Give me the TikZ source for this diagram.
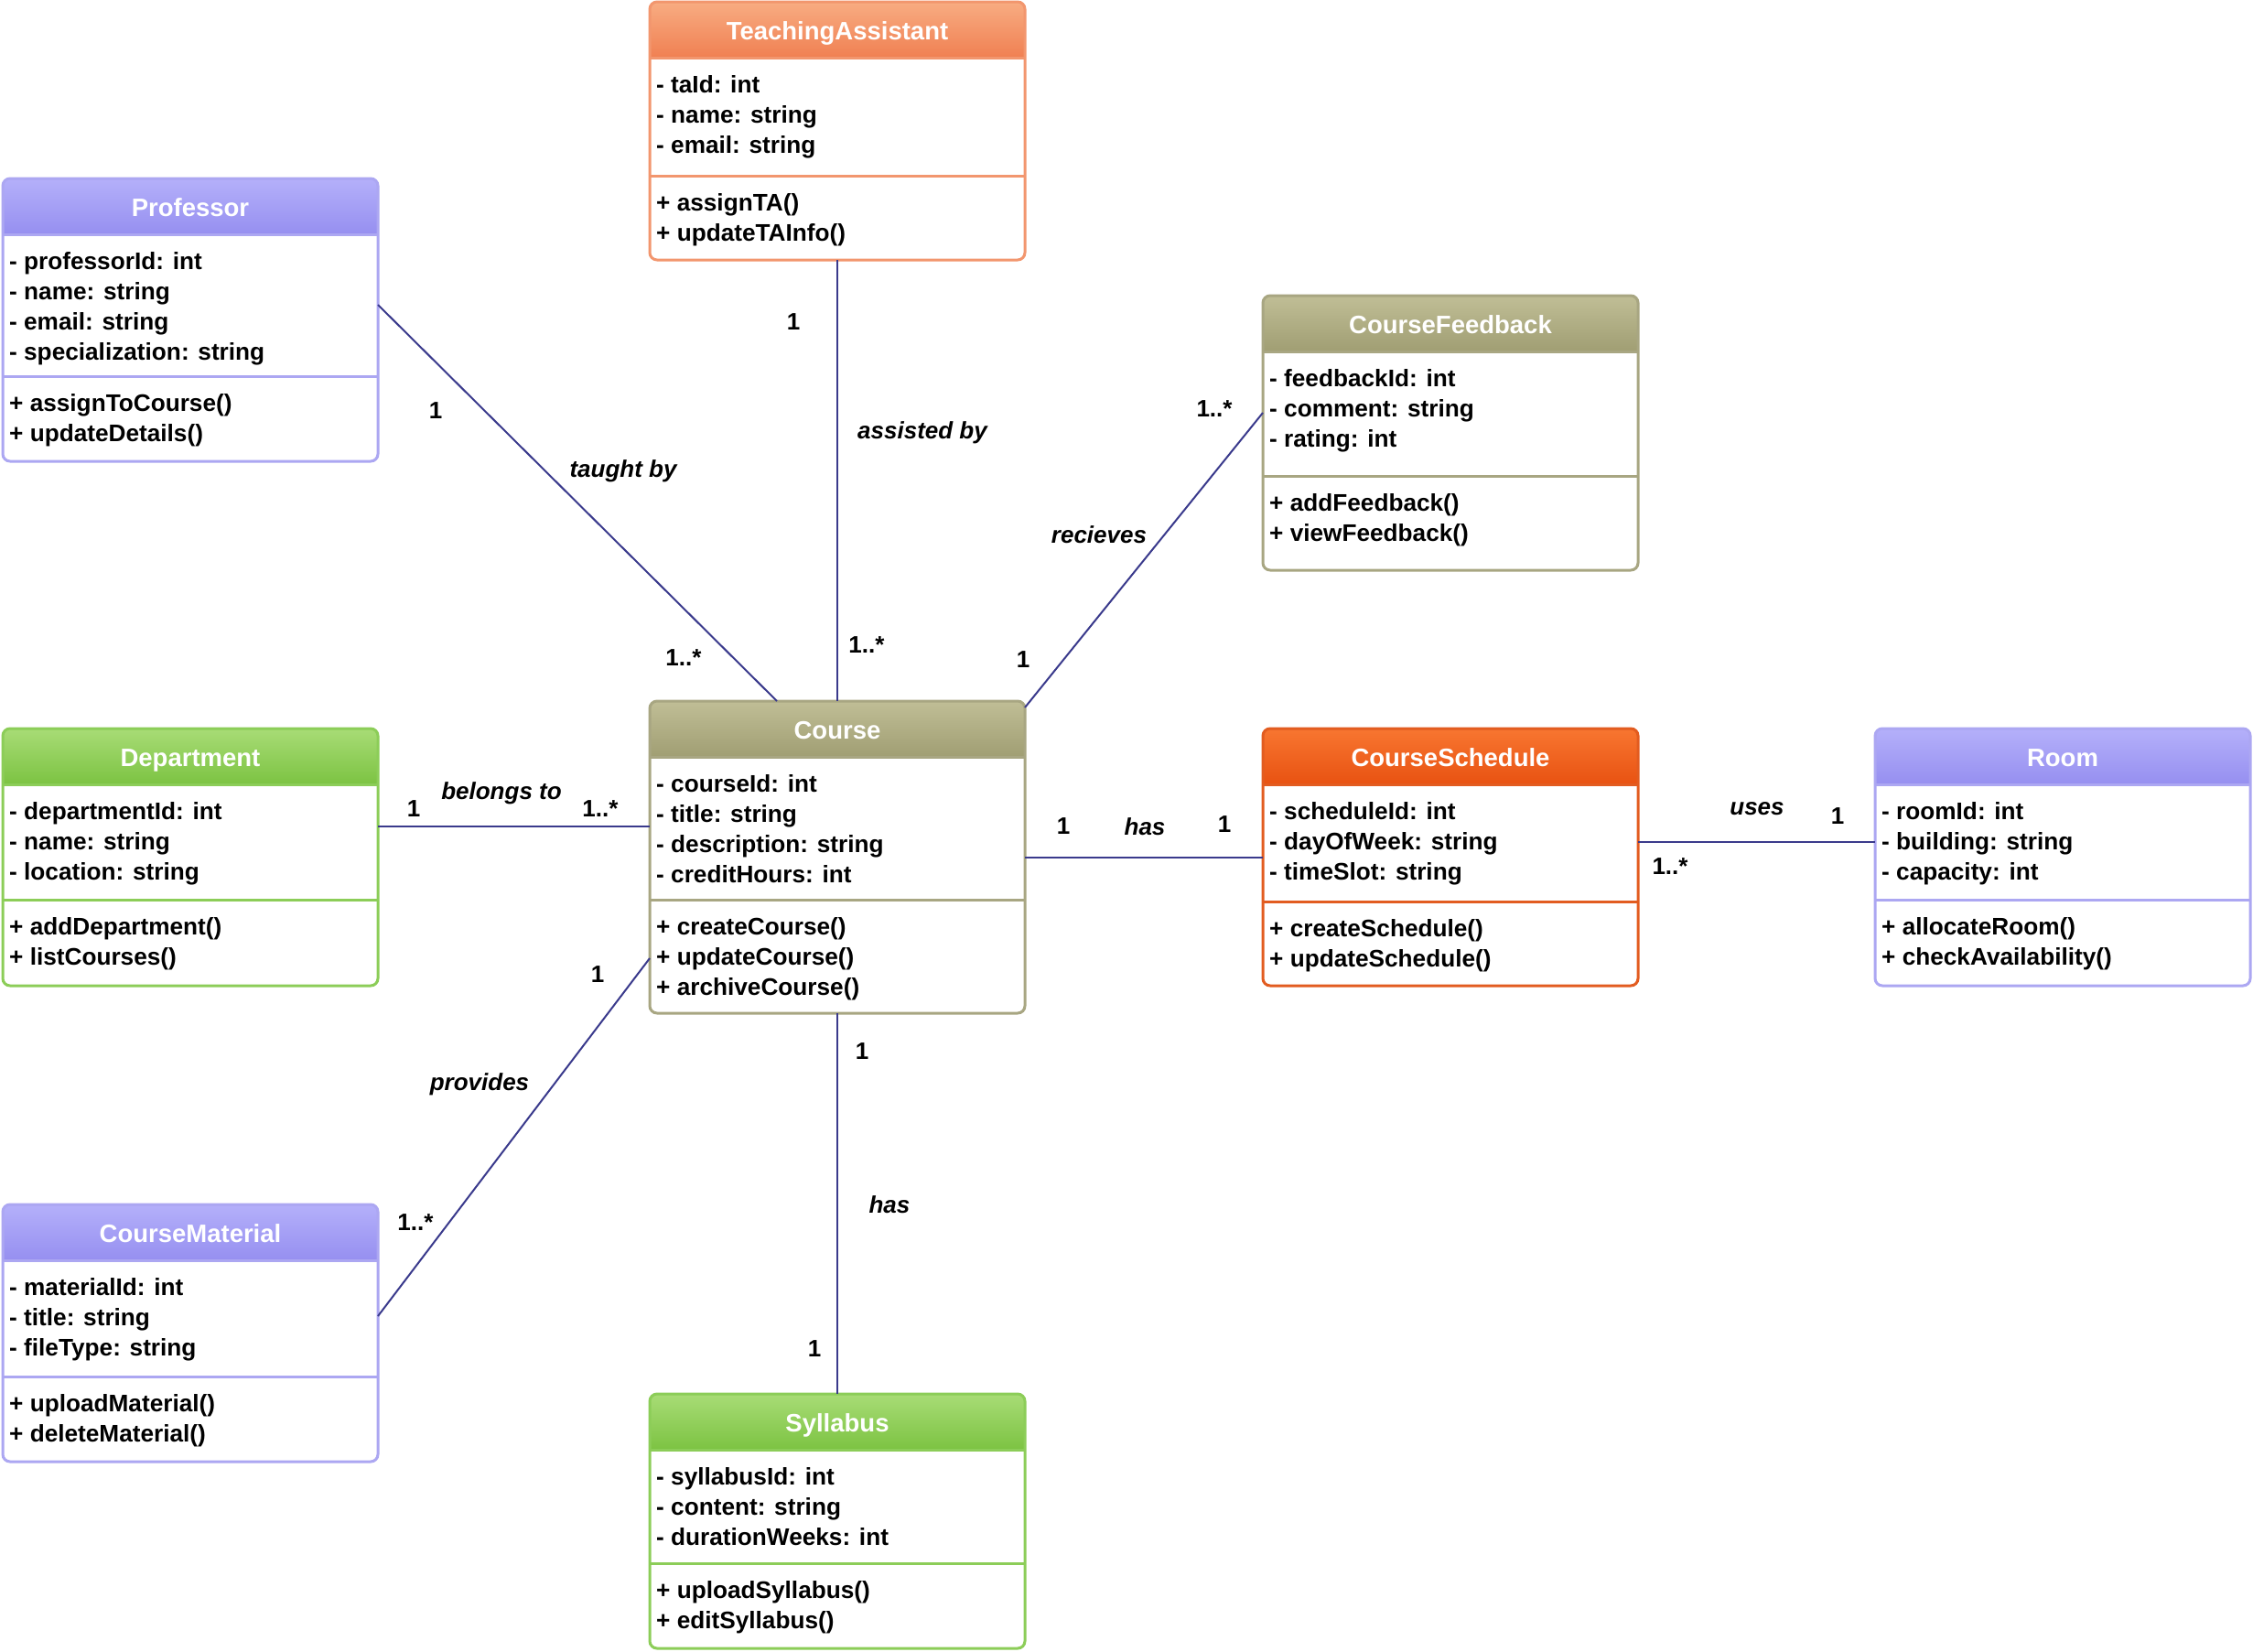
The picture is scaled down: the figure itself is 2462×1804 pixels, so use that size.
\documentclass[tikz,border=0pt]{standalone}
\usepackage{fontspec}
\setmainfont{Liberation Sans}
\usetikzlibrary{calc}

\definecolor{lineblue}{RGB}{58,58,140}
\definecolor{oraTop}{RGB}{248,172,130}
\definecolor{oraBot}{RGB}{240,128,82}
\definecolor{oraBrd}{RGB}{242,150,110}
\definecolor{purTop}{RGB}{180,176,250}
\definecolor{purBot}{RGB}{150,143,240}
\definecolor{purBrd}{RGB}{172,167,242}
\definecolor{oliTop}{RGB}{192,190,150}
\definecolor{oliBot}{RGB}{160,158,115}
\definecolor{oliBrd}{RGB}{168,166,130}
\definecolor{grnTop}{RGB}{168,220,118}
\definecolor{grnBot}{RGB}{124,195,66}
\definecolor{grnBrd}{RGB}{140,205,88}
\definecolor{redTop}{RGB}{248,118,48}
\definecolor{redBot}{RGB}{232,82,18}
\definecolor{redBrd}{RGB}{226,92,32}

\tikzset{
  membertext/.style={inner sep=0, align=left, anchor=north west,
    font=\fontsize{26.2}{33}\selectfont\bfseries, text=black},
  titletext/.style={anchor=base, inner sep=0,
    font=\fontsize{27.5}{30}\selectfont\bfseries, text=white},
  classbox/.style={anchor=north west, minimum width=410, inner sep=0,
    outer sep=0, rounded corners=8, line width=3},
  mult/.style={font=\fontsize{26}{30}\selectfont\bfseries, inner sep=0},
  role/.style={font=\fontsize{26}{30}\selectfont\bfseries\itshape, inner sep=0},
  assoc/.style={draw=lineblue, line width=2}
}

% #1 name, #2 left, #3 top, #4 divider y, #5 bottom, #6 scheme, #7 title, #8 attrs, #9 methods
\newcommand{\umlclass}[9]{%
  \pgfmathsetmacro{\ucR}{#2+410}%
  \pgfmathsetmacro{\ucH}{#5-#3}%
  \pgfmathsetmacro{\ucHB}{#3+61}%
  \pgfmathsetmacro{\ucC}{#2+205}%
  \shade[top color=#6Top, bottom color=#6Bot]
    (#2,-\ucHB) -- (#2,-#3-8) arc[start angle=180,end angle=90,radius=8]
    -- (\ucR-8,-#3) arc[start angle=90,end angle=0,radius=8]
    -- (\ucR,-\ucHB) -- cycle;
  \draw[#6Brd, line width=3] (#2,-\ucHB) -- (\ucR,-\ucHB);
  \draw[#6Brd, line width=3] (#2,-#4) -- (\ucR,-#4);
  \node[classbox, draw=#6Brd, minimum height=\ucH] (#1) at (#2,-#3) {};
  \node[titletext] (#1-t) at (\ucC,-\ucHB+20) {#7};
  \node[membertext] (#1-a) at (#2+7,-\ucHB-15) {\strut #8};
  \node[membertext] (#1-m) at (#2+7,-#4-15) {\strut #9};
}

\begin{document}
\begin{tikzpicture}[x=1pt,y=1pt]
\fill[white] (0,0) rectangle (2462,-1804);
\useasboundingbox (0,0) rectangle (2462,-1804);

\umlclass{ta}{710}{2}{192}{284}{ora}{TeachingAssistant}
  {- taId: int\\- name: string\\- email: string}
  {+ assignTA()\\+ updateTAInfo()}
\umlclass{prof}{3}{195}{411}{504}{pur}{Professor}
  {- professorId: int\\- name: string\\- email: string\\- specialization: string}
  {+ assignToCourse()\\+ updateDetails()}
\umlclass{fb}{1380}{323}{520}{623}{oli}{CourseFeedback}
  {- feedbackId: int\\- comment: string\\- rating: int}
  {+ addFeedback()\\+ viewFeedback()}
\umlclass{course}{710}{766}{983}{1107}{oli}{Course}
  {- courseId: int\\- title: string\\- description: string\\- creditHours: int}
  {+ createCourse()\\+ updateCourse()\\+ archiveCourse()}
\umlclass{dept}{3}{796}{983}{1077}{grn}{Department}
  {- departmentId: int\\- name: string\\- location: string}
  {+ addDepartment()\\+ listCourses()}
\umlclass{sched}{1380}{796}{985}{1077}{red}{CourseSchedule}
  {- scheduleId: int\\- dayOfWeek: string\\- timeSlot: string}
  {+ createSchedule()\\+ updateSchedule()}
\umlclass{room}{2049}{796}{983}{1077}{pur}{Room}
  {- roomId: int\\- building: string\\- capacity: int}
  {+ allocateRoom()\\+ checkAvailability()}
\umlclass{mat}{3}{1316}{1504}{1597}{pur}{CourseMaterial}
  {- materialId: int\\- title: string\\- fileType: string}
  {+ uploadMaterial()\\+ deleteMaterial()}
\umlclass{syl}{710}{1523}{1708}{1801}{grn}{Syllabus}
  {- syllabusId: int\\- content: string\\- durationWeeks: int}
  {+ uploadSyllabus()\\+ editSyllabus()}

% connectors
\draw[assoc] ([yshift=16.5]prof.east) -- ([xshift=-66]course.north);
\draw[assoc] (ta.south) -- (course.north);
\draw[assoc] ([yshift=-7]course.north east) -- ([yshift=22]fb.west);
\draw[assoc] ([yshift=33.5]dept.east) -- ([yshift=33.5]course.west);
\draw[assoc] (course.east) -- (sched.west);
\draw[assoc] ([yshift=16.5]sched.east) -- ([yshift=16.5]room.west);
\draw[assoc] ([yshift=-110.5]course.west) -- ([yshift=18.5]mat.east);
\draw[assoc] (course.south) -- (syl.north);

% labels
\node[mult] (pm1) at (476,-449) {1};
\node[role] (pr) at (681,-515) {taught by};
\node[mult] (pm2) at (747,-719) {1..*};
\node[mult] (tm1) at (867,-352) {1};
\node[role] (tr) at (1008,-473) {assisted by};
\node[mult] (tm2) at (947,-705) {1..*};
\node[mult] (fm1) at (1327,-447) {1..*};
\node[role] (fr) at (1201,-584) {recieves};
\node[mult] (fm2) at (1118,-721) {1};
\node[mult] (dm1) at (452,-884) {1};
\node[role] (dr) at (548,-867) {belongs to};
\node[mult] (dm2) at (656,-884) {1..*};
\node[mult] (sm1) at (1162,-903) {1};
\node[role] (sr) at (1251,-903) {has};
\node[mult] (sm2) at (1338,-901) {1};
\node[role] (rr) at (1920,-884) {uses};
\node[mult] (rm1) at (2008,-892) {1};
\node[mult] (rm2) at (1825,-947) {1..*};
\node[mult] (mm1) at (653,-1065) {1};
\node[role] (mr) at (524,-1185) {provides};
\node[mult] (mm2) at (454,-1336) {1..*};
\node[mult] (ym1) at (942,-1149) {1};
\node[role] (yr) at (972,-1316) {has};
\node[mult] (ym2) at (890,-1474) {1};
\end{tikzpicture}
\end{document}
